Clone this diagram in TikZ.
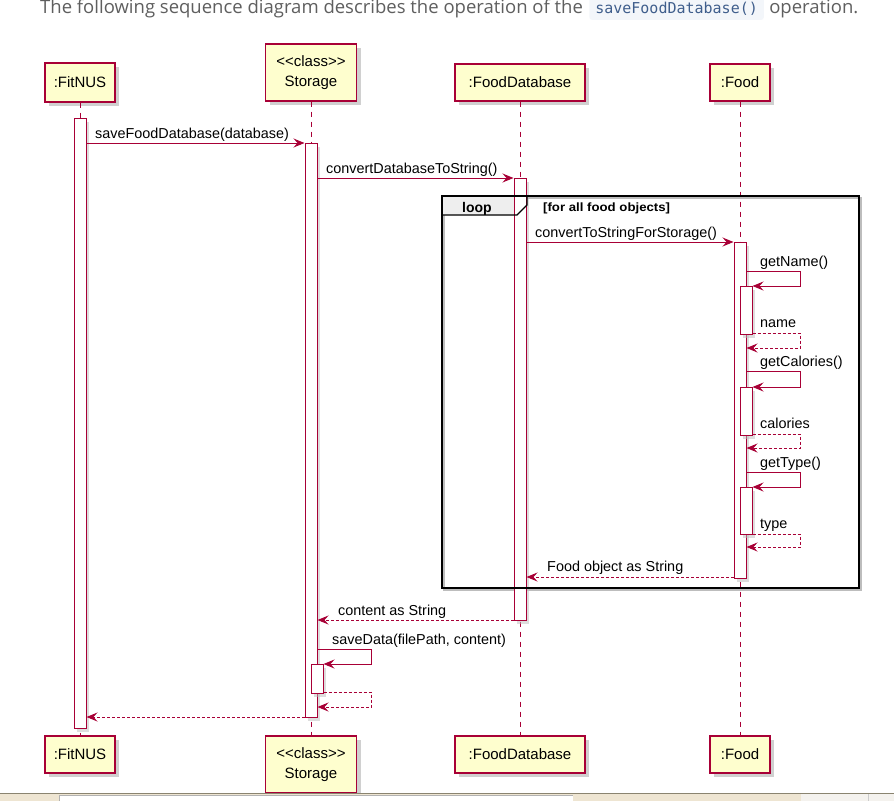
\documentclass[tikz,border=0pt]{standalone}
\usepackage{fontspec}
\setmainfont{Liberation Sans}
\newfontfamily\webfont{Open Sans}
\newfontfamily\codefont{DejaVu Sans Mono}
\usetikzlibrary{arrows.meta,calc,shadows}
\definecolor{uml}{HTML}{A80036}
\definecolor{ufill}{HTML}{FEFECE}
\definecolor{tabfill}{HTML}{EEEEEE}
\definecolor{shadowgray}{HTML}{BDBDBD}
\definecolor{webtext}{HTML}{5F5F5F}
\definecolor{codetext}{HTML}{3F5E8C}
\definecolor{codebg}{HTML}{F3F6FA}
\definecolor{strip}{HTML}{EEE5D2}
\definecolor{stripb}{HTML}{F4F2EE}
\definecolor{stripline}{HTML}{8A8470}
\tikzset{
  part/.style={draw=uml, fill=ufill, line width=1.3pt, inner sep=0pt, align=center,
    font=\fontsize{15}{20}\selectfont,
    drop shadow={shadow xshift=4pt, shadow yshift=-4pt, fill=shadowgray, opacity=0.7}},
  act/.style={draw=uml, fill=white, line width=1pt, minimum width=12pt, inner sep=0pt, anchor=north,
    drop shadow={shadow xshift=3pt, shadow yshift=-3pt, fill=shadowgray, opacity=0.5}},
  life/.style={draw=uml, line width=1pt, dash pattern=on 5pt off 5pt},
  msg/.style={draw=uml, line width=1pt, -{Stealth[length=11pt,width=9pt,inset=4pt]}},
  ret/.style={msg, dash pattern=on 3pt off 2pt},
  lbl/.style={anchor=base west, inner sep=0pt, font=\fontsize{14.4}{16}\selectfont},
  hdr/.style={anchor=base west, inner sep=0pt, font=\webfont\fontsize{18.5}{20}\selectfont, text=webtext},
}
\newcommand{\stereo}{<\kern0pt<class>\kern0pt>}
\begin{document}
\begin{tikzpicture}[x=1pt, y=-1pt]
\useasboundingbox (0,0) rectangle (894,801);
\clip (0,0) rectangle (894,801);
\fill[white] (0,0) rectangle (894,801);

% header text
\node[hdr] (h1) at (40,13) {The following sequence diagram describes the operation of the};
\node[anchor=base west, inner xsep=6pt, inner ysep=5pt, fill=codebg, rounded corners=3pt, text=codetext,
  font=\codefont\fontsize{15}{16}\selectfont] (h2) at ($(h1.base east)+(6,0)$) {saveFoodDatabase()};
\node[hdr] (h3) at ($(h2.base east)+(5,0)$) {operation.};

% participants
\node[part, minimum width=70pt, minimum height=39pt] (fitT) at (80,82.5) {:FitNUS};
\node[part, minimum width=91pt, minimum height=57pt] (stoT) at (311,72.5) {\stereo\\Storage};
\node[part, minimum width=130pt, minimum height=37pt] (dbT) at (520,82.5) {:FoodDatabase};
\node[part, minimum width=60pt, minimum height=37pt] (foodT) at (740,82.5) {:Food};

\node[part, minimum width=70pt, minimum height=37pt] (fitB) at (80,754.5) {:FitNUS};
\node[part, minimum width=91pt, minimum height=57pt] (stoB) at (311,764.5) {\stereo\\Storage};
\node[part, minimum width=130pt, minimum height=37pt] (dbB) at (520,754.5) {:FoodDatabase};
\node[part, minimum width=60pt, minimum height=37pt] (foodB) at (740,754.5) {:Food};

% lifelines
\draw[life] (fitT.south) -- (fitB.north);
\draw[life] (stoT.south) -- (stoB.north);
\draw[life] (dbT.south) -- (dbB.north);
\draw[life] (foodT.south) -- (foodB.north);

% loop frame shadow and tab fill
\draw[draw=shadowgray, line width=2pt] (444,198) rectangle (861,590);
\fill[tabfill] (441,195) -- (527,195) -- (527,205) -- (517,215) -- (441,215) -- cycle;

% activations
\node[act, minimum height=610pt] (aFit) at (80,118) {};
\node[act, minimum height=574pt] (aSto) at (311,143) {};
\node[act, minimum height=29pt] (aSto2) at (317,664) {};
\node[act, minimum height=442pt] (aDB) at (520,178) {};
\node[act, minimum height=336pt] (aFood) at (740,242) {};
\node[act, minimum height=48pt] (aF1) at (746,286) {};
\node[act, minimum height=48pt] (aF2) at (746,387) {};
\node[act, minimum height=47pt] (aF3) at (746,487) {};

% loop frame
\node[draw=black, line width=2pt, anchor=north west, minimum width=417pt, minimum height=392pt, inner sep=0pt] (loopbox) at (441,195) {};
\draw[black, line width=1.2pt] (527,195) -- (527,205) -- (517,215) -- (441,215);
\node[anchor=base, inner sep=0pt, font=\bfseries\fontsize{14}{16}\selectfont] (looplbl) at (477,212) {loop};
\node[anchor=base west, inner sep=0pt, font=\bfseries\fontsize{12}{13}\selectfont] (guard) at (543,211) {\scalebox{1.1}[1]{[for all food objects]}};

% messages
\draw[msg] (aFit.east |- 0,143) -- (aSto.west |- 0,143);
\node[lbl] (l1) at (95,138) {saveFoodDatabase(database)};
\draw[msg] (aSto.east |- 0,178) -- (aDB.west |- 0,178);
\node[lbl] (l2) at (326,173) {convertDatabaseToString()};
\draw[msg] (aDB.east |- 0,242) -- (aFood.west |- 0,242);
\node[lbl] (l3) at (535,237) {convertToStringForStorage()};

\draw[msg] (aFood.east |- 0,271) -- (800,271) -- (800,286) -- (aF1.east |- 0,286);
\node[lbl] (l4) at (760,266) {getName()};
\draw[ret] (aF1.east |- 0,333) -- (800,333) -- (800,348) -- (aFood.east |- 0,348);
\node[lbl] (l5) at (760,327) {name};

\draw[msg] (aFood.east |- 0,371) -- (800,371) -- (800,387) -- (aF2.east |- 0,387);
\node[lbl] (l6) at (760,366) {getCalories()};
\draw[ret] (aF2.east |- 0,434) -- (800,434) -- (800,448) -- (aFood.east |- 0,448);
\node[lbl] (l7) at (760,428) {calories};

\draw[msg] (aFood.east |- 0,472) -- (800,472) -- (800,487) -- (aF3.east |- 0,487);
\node[lbl] (l8) at (760,467) {getType()};
\draw[ret] (aF3.east |- 0,534) -- (800,534) -- (800,547) -- (aFood.east |- 0,547);
\node[lbl] (l9) at (760,528) {type};

\draw[ret] (aFood.west |- 0,577) -- (aDB.east |- 0,577);
\node[lbl] (l10) at (547,571) {Food object as String};

\draw[ret] (aDB.west |- 0,620) -- (aSto.east |- 0,620);
\node[lbl] (l11) at (338,615) {content as String};

\draw[msg] (aSto.east |- 0,649) -- (371,649) -- (371,664) -- (aSto2.east |- 0,664);
\node[lbl] (l12) at (332,644) {saveData(filePath, content)};
\draw[ret] (aSto2.east |- 0,692) -- (371,692) -- (371,707) -- (aSto.east |- 0,707);

\draw[ret] (aSto.west |- 0,717) -- (aFit.east |- 0,717);

% bottom browser strip
\fill[strip] (0,793) rectangle (894,801);
\fill[stripb] (801,794) rectangle (894,801);
\fill[white] (59,795) rectangle (573,801);
\draw[gray!60, line width=1pt] (59,801) -- (59,795) -- (573,795);
\draw[gray!40, line width=0.8pt] (868,794) -- (868,801);
\draw[stripline, line width=1pt] (0,793) -- (894,793);
\end{tikzpicture}
\end{document}
